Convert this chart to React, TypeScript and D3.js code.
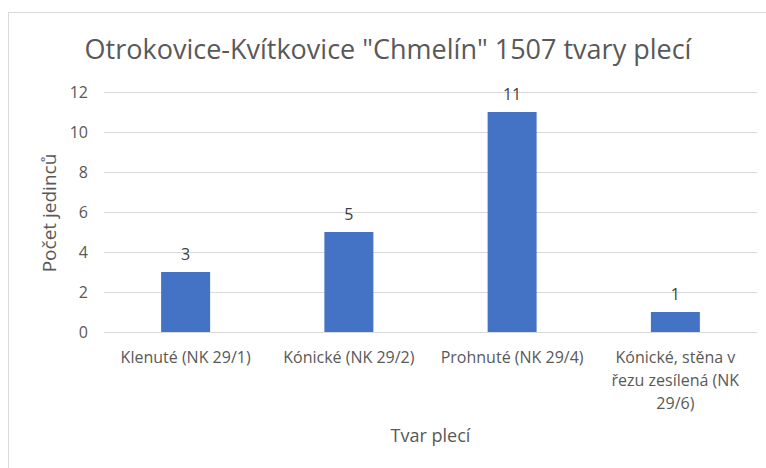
import { useRef, useEffect } from 'react';
import * as d3 from 'd3';

const categories = ['Klenuté (NK 29/1)', 'Kónické (NK 29/2)', 'Prohnuté (NK 29/4)', 'Kónické, stěna v řezu zesílená (NK 29/6)'];
const categoryLines = [
  ['Klenuté (NK 29/1)'],
  ['Kónické (NK 29/2)'],
  ['Prohnuté (NK 29/4)'],
  ['Kónické, stěna v', 'řezu zesílená (NK', '29/6)'],
];
const counts = [3, 5, 11, 1];
const yTicks = [0, 2, 4, 6, 8, 10, 12];

const title = 'Otrokovice-Kvítkovice "Chmelín" 1507 tvary plecí';
const xTitle = 'Tvar plecí';
const yTitle = 'Počet jedinců';

export default function App() {
  const svgRef = useRef<SVGSVGElement>(null);

  useEffect(() => {
    const width = 766;
    const height = 468;
    const margin = { top: 92, right: 9, bottom: 136, left: 104 };
    const font = "'Open Sans', sans-serif";
    const textColor = '#595959';

    const svg = d3.select(svgRef.current);
    svg.selectAll('*').remove();

    // chart area
    svg.append('rect')
      .attr('x', 8.5).attr('y', 12.5)
      .attr('width', 780).attr('height', 500)
      .attr('fill', '#fff')
      .attr('stroke', '#d9d9d9');

    const x = d3.scaleBand()
      .domain(categories)
      .range([margin.left, width - margin.right])
      .paddingInner(0.7)
      .paddingOuter(0.35);

    const y = d3.scaleLinear()
      .domain([0, 12])
      .range([height - margin.bottom, margin.top]);

    // gridlines
    svg.append('g')
      .selectAll('line')
      .data(yTicks)
      .enter()
      .append('line')
      .attr('x1', margin.left)
      .attr('x2', width - margin.right)
      .attr('y1', d => Math.round(y(d)) + 0.5)
      .attr('y2', d => Math.round(y(d)) + 0.5)
      .attr('stroke', '#d9d9d9');

    // y tick labels
    svg.append('g')
      .selectAll('text')
      .data(yTicks)
      .enter()
      .append('text')
      .attr('x', 88)
      .attr('y', d => y(d))
      .attr('dy', '0.35em')
      .attr('text-anchor', 'end')
      .attr('font-family', font)
      .attr('font-size', 16)
      .attr('fill', textColor)
      .text(d => d);

    // bars
    svg.append('g')
      .selectAll('rect')
      .data(counts)
      .enter()
      .append('rect')
      .attr('x', (d, i) => x(categories[i])!)
      .attr('y', d => y(d))
      .attr('width', x.bandwidth())
      .attr('height', d => y(0) - y(d))
      .attr('fill', '#4472c4');

    // data labels
    svg.append('g')
      .selectAll('text')
      .data(counts)
      .enter()
      .append('text')
      .attr('x', (d, i) => x(categories[i])! + x.bandwidth() / 2)
      .attr('y', d => y(d) - 12)
      .attr('text-anchor', 'middle')
      .attr('font-family', font)
      .attr('font-size', 16)
      .attr('fill', '#404040')
      .text(d => d);

    // category labels, wrapped as in the original
    categoryLines.forEach((lines, i) => {
      const cx = x(categories[i])! + x.bandwidth() / 2;
      const t = svg.append('text')
        .attr('text-anchor', 'middle')
        .attr('font-family', font)
        .attr('font-size', 16)
        .attr('fill', textColor);
      lines.forEach((ln, j) => {
        t.append('tspan')
          .attr('x', cx)
          .attr('y', y(0) + 31 + j * 23)
          .text(ln);
      });
    });

    // title
    svg.append('text')
      .attr('x', 388)
      .attr('y', 59)
      .attr('text-anchor', 'middle')
      .attr('font-family', font)
      .attr('font-size', 27)
      .attr('fill', textColor)
      .text(title);

    // axis titles
    svg.append('text')
      .attr('x', (margin.left + width - margin.right) / 2)
      .attr('y', 442)
      .attr('text-anchor', 'middle')
      .attr('font-family', font)
      .attr('font-size', 18)
      .attr('fill', textColor)
      .text(xTitle);

    svg.append('text')
      .attr('transform', 'translate(56, 213) rotate(-90)')
      .attr('text-anchor', 'middle')
      .attr('font-family', font)
      .attr('font-size', 19)
      .attr('fill', textColor)
      .text(yTitle);
  }, []);

  return (
    <svg
      ref={svgRef}
      width={766}
      height={468}
      style={{ position: 'absolute', left: 0, top: 0, background: '#fff' }}
    />
  );
}
